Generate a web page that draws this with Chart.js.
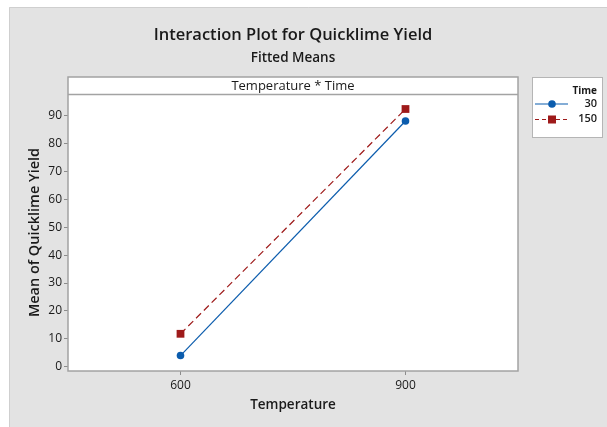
<!DOCTYPE html>
<html>
<head>
<meta charset="utf-8">
<script src="https://cdn.jsdelivr.net/npm/chart.js@4.4.1/dist/chart.umd.min.js"></script>
<style>
html,body{margin:0;padding:0;background:#ffffff;}
#wrap{position:relative;width:607px;height:427px;}
</style>
</head>
<body>
<div id="wrap"><canvas id="c" width="607" height="427"></canvas></div>
<script>
// ---- data ----
const temperatures = [600, 900];
const yieldTime30 = [4.0, 88.1];
const yieldTime150 = [11.8, 92.4];
const seriesLabels = ['30', '150'];
const yTickValues = [0, 10, 20, 30, 40, 50, 60, 70, 80, 90];
const xTickValues = [600, 900];

const titleText = 'Interaction Plot for Quicklime Yield';
const subtitleText = 'Fitted Means';
const stripText = 'Temperature * Time';
const xTitle = 'Temperature';
const yTitle = 'Mean of Quicklime Yield';
const legendTitle = 'Time';

const BLUE = '#0b5cad';
const RED = '#9e1a1a';
const FONT = '"Open Sans", "Noto Sans", sans-serif';

const toPoints = (xs, ys) => xs.map((x, i) => ({x: x, y: ys[i]}));

const decor = {
  id: 'decor',
  beforeDraw(chart) {
    const ctx = chart.ctx;
    const a = chart.chartArea;
    ctx.save();
    ctx.fillStyle = '#ffffff';
    ctx.fillRect(0, 0, 607, 427);
    ctx.fillStyle = '#e3e3e3';
    ctx.fillRect(9, 7, 598, 420);
    ctx.strokeStyle = '#cfcfcf';
    ctx.lineWidth = 1;
    ctx.beginPath();
    ctx.moveTo(9.5, 427); ctx.lineTo(9.5, 7.5); ctx.lineTo(607, 7.5);
    ctx.stroke();
    // plot + strip white
    ctx.fillStyle = '#ffffff';
    ctx.fillRect(a.left, 77, a.right - a.left, a.bottom - 77);
    ctx.restore();
  },
  afterDraw(chart) {
    const ctx = chart.ctx;
    const a = chart.chartArea;
    ctx.save();
    // frame
    ctx.strokeStyle = '#a3a3a3';
    ctx.lineWidth = 1.5;
    ctx.strokeRect(a.left, 77, a.right - a.left, a.bottom - 77);
    ctx.beginPath();
    ctx.moveTo(a.left, a.top + 0.5); ctx.lineTo(a.right, a.top + 0.5);
    ctx.stroke();
    // titles
    ctx.fillStyle = '#1a1a1a';
    ctx.textAlign = 'center';
    ctx.textBaseline = 'middle';
    ctx.font = '600 16.5px ' + FONT;
    ctx.fillText(titleText, 293, 35);
    ctx.font = '600 13.5px ' + FONT;
    ctx.fillText(subtitleText, 293, 58);
    ctx.font = '13px ' + FONT;
    ctx.fillText(stripText, (a.left + a.right) / 2, 86);
    // axis titles
    ctx.font = '600 13.5px ' + FONT;
    ctx.fillText(xTitle, (a.left + a.right) / 2, 405);
    ctx.save();
    ctx.translate(35, (a.top + a.bottom) / 2);
    ctx.rotate(-Math.PI / 2);
    ctx.font = '600 14.5px ' + FONT;
    ctx.fillText(yTitle, 0, 0);
    ctx.restore();
    // legend
    ctx.fillStyle = '#ffffff';
    ctx.fillRect(532, 77, 71, 61);
    ctx.strokeStyle = '#b5b5b5';
    ctx.lineWidth = 1;
    ctx.strokeRect(532.5, 77.5, 70, 60);
    ctx.fillStyle = '#1a1a1a';
    ctx.textAlign = 'right';
    ctx.font = 'bold 10px ' + FONT;
    ctx.fillText(legendTitle, 597, 91);
    ctx.font = '600 11px ' + FONT;
    ctx.fillText(seriesLabels[0], 597, 104);
    ctx.fillText(seriesLabels[1], 597, 119);
    // legend samples
    ctx.strokeStyle = BLUE;
    ctx.lineWidth = 1.2;
    ctx.beginPath(); ctx.moveTo(535, 104); ctx.lineTo(568, 104); ctx.stroke();
    ctx.fillStyle = BLUE;
    ctx.beginPath(); ctx.arc(552, 104, 3.8, 0, Math.PI * 2); ctx.fill();
    ctx.strokeStyle = RED;
    ctx.setLineDash([4, 3]);
    ctx.beginPath(); ctx.moveTo(535, 119.5); ctx.lineTo(568, 119.5); ctx.stroke();
    ctx.setLineDash([]);
    ctx.fillStyle = RED;
    ctx.fillRect(548, 115.5, 8, 8);
    ctx.restore();
  }
};

new Chart(document.getElementById('c'), {
  type: 'line',
  data: {
    datasets: [
      {
        label: seriesLabels[0],
        data: toPoints(temperatures, yieldTime30),
        borderColor: BLUE,
        backgroundColor: BLUE,
        borderWidth: 1.2,
        pointStyle: 'circle',
        pointRadius: 3.8,
        pointBorderWidth: 0,
        pointHoverRadius: 3.8,
        fill: false,
        tension: 0
      },
      {
        label: seriesLabels[1],
        data: toPoints(temperatures, yieldTime150),
        borderColor: RED,
        backgroundColor: RED,
        borderWidth: 1.2,
        borderDash: [7, 4],
        pointStyle: 'rect',
        pointRadius: 5.5,
        pointBorderWidth: 0,
        pointHoverRadius: 5.5,
        fill: false,
        tension: 0
      }
    ]
  },
  options: {
    responsive: false,
    animation: false,
    events: [],
    layout: {padding: {left: 0, right: 89, top: 94, bottom: 0}},
    plugins: {
      legend: {display: false},
      title: {display: false},
      tooltip: {enabled: false}
    },
    scales: {
      x: {
        type: 'linear',
        min: 450,
        max: 1050,
        afterFit(s) { s.height = 56; },
        afterBuildTicks(s) { s.ticks = xTickValues.map(v => ({value: v})); },
        grid: {drawOnChartArea: false, drawTicks: true, tickLength: 4, color: '#8c8c8c'},
        border: {display: false},
        ticks: {color: '#1a1a1a', padding: 3, font: {family: FONT, size: 12}, maxRotation: 0}
      },
      y: {
        type: 'linear',
        min: -1.54,
        max: 97.78,
        afterFit(s) { s.width = 68; },
        afterBuildTicks(s) { s.ticks = yTickValues.map(v => ({value: v})); },
        grid: {drawOnChartArea: false, drawTicks: true, tickLength: 4, color: '#8c8c8c'},
        border: {display: false},
        ticks: {color: '#1a1a1a', padding: 2, font: {family: FONT, size: 12}}
      }
    }
  },
  plugins: [decor]
});
</script>
</body>
</html>
